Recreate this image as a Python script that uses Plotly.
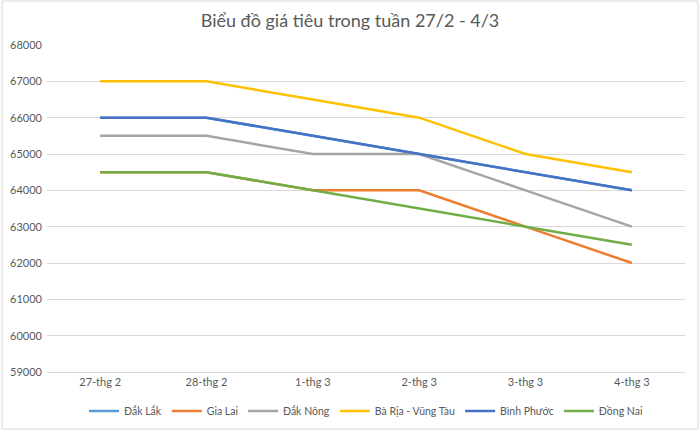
import plotly.graph_objects as go

categories = ["27-thg 2", "28-thg 2", "1-thg 3", "2-thg 3", "3-thg 3", "4-thg 3"]
dak_lak = [66000, 66000, 65500, 65000, 64500, 64000]
gia_lai = [64500, 64500, 64000, 64000, 63000, 62000]
dak_nong = [65500, 65500, 65000, 65000, 64000, 63000]
ba_ria = [67000, 67000, 66500, 66000, 65000, 64500]
binh_phuoc = [66000, 66000, 65500, 65000, 64500, 64000]
dong_nai = [64500, 64500, 64000, 63500, 63000, 62500]

series = [
    ("Đắk Lắk", dak_lak, "#5B9BD5"),
    ("Gia Lai", gia_lai, "#ED7D31"),
    ("Đắk Nông", dak_nong, "#A5A5A5"),
    ("Bà Rịa - Vũng Tàu", ba_ria, "#FFC000"),
    ("Bình Phước", binh_phuoc, "#4472C4"),
    ("Đồng Nai", dong_nai, "#70AD47"),
]

fig = go.Figure()
for name, vals, color in series:
    fig.add_trace(go.Scatter(x=categories, y=vals, name=name, mode="lines",
                             line=dict(color=color, width=2.5)))

font = "Lato, 'Open Sans', sans-serif"
fig.update_layout(
    width=700, height=433,
    margin=dict(l=47, r=15, t=45, b=61, autoexpand=False),
    paper_bgcolor="white", plot_bgcolor="white",
    font=dict(family=font, size=11, color="#595959"),
    title=dict(text="Biểu đồ giá tiêu trong tuần 27/2 - 4/3", x=0.5, xanchor="center",
               y=0.953, yanchor="middle",
               font=dict(family=font, size=18, color="#595959")),
    xaxis=dict(range=[-0.5, 5.5], showgrid=False, showline=True, linecolor="#d9d9d9",
               ticks="", tickfont=dict(size=11, color="#595959"), automargin=False),
    yaxis=dict(range=[59000, 68000], dtick=1000, showgrid=True, gridcolor="#d9d9d9",
               gridwidth=1, zeroline=False, ticks="", tickformat="d", automargin=False,
               tickfont=dict(size=11, color="#595959"), ticklabelstandoff=4),
    legend=dict(orientation="h", x=0.5, xanchor="center", y=-0.075, yanchor="top",
                font=dict(size=10.5, color="#595959"), itemwidth=30,
                traceorder="normal", tracegroupgap=0),
    showlegend=True,
)
fig.add_shape(type="rect", xref="paper", yref="paper", x0=-45/638, x1=(698-47)/638,
              y0=-(429-372)/327, y1=(372-1)/327, line=dict(color="#d9d9d9", width=1),
              layer="below")
fig.write_html("out.html", config={"displayModeBar": False},
               post_script="document.body.style.margin='0';document.body.style.overflow='hidden';")
